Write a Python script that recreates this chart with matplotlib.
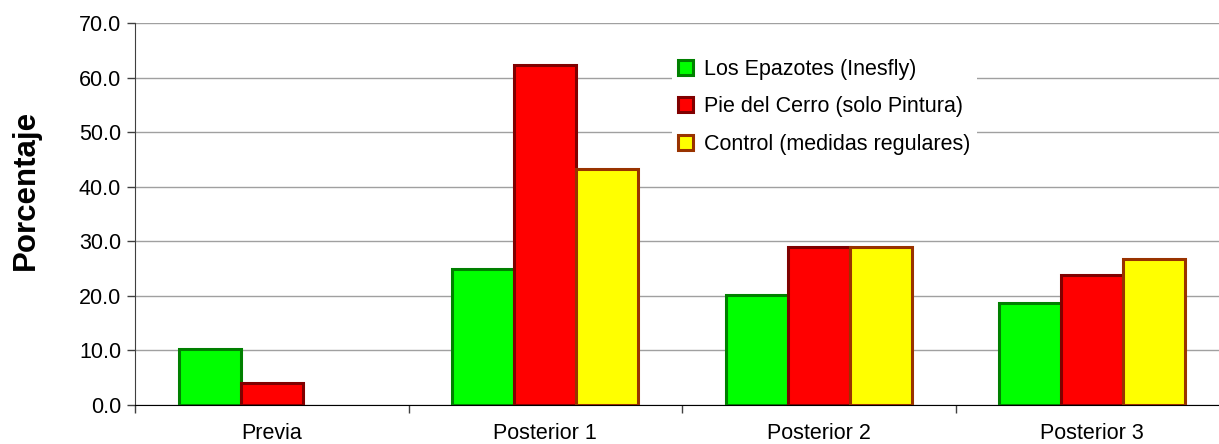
import numpy as np
import matplotlib
matplotlib.use("Agg")
import matplotlib.pyplot as plt
from matplotlib.ticker import FixedLocator, MultipleLocator, FormatStrFormatter

plt.rcParams['font.family'] = ['Liberation Sans', 'DejaVu Sans']

categories = ['Previa', 'Posterior 1', 'Posterior 2', 'Posterior 3']
series_names = ['Los Epazotes (Inesfly)', 'Pie del Cerro (solo Pintura)',
                'Control (medidas regulares)']
epazotes = [10.3, 24.9, 20.2, 18.6]
pie_cerro = [4.0, 62.3, 28.9, 23.8]
control = [0.0, 43.3, 28.9, 26.7]

fills = ['#00ff00', '#ff0000', '#ffff00']
edges = ['#008000', '#800000', '#993300']

fig = plt.figure(figsize=(12.19, 4.44), dpi=100)
ax = fig.add_axes([135 / 1219, 39 / 444, 1084 / 1219, 382 / 444])

x = np.arange(len(categories))
w = 0.227
for i, vals in enumerate([epazotes, pie_cerro, control]):
    v = np.array(vals, dtype=float)
    v[v == 0] = np.nan  # empty bars are not drawn
    ax.bar(x + (i - 1) * w, v, w, color=fills[i], edgecolor=edges[i],
           linewidth=2.2, label=series_names[i], zorder=3)

ax.set_xlim(-0.5, 3.463)
ax.set_ylim(0, 70)
ax.yaxis.set_major_locator(MultipleLocator(10))
ax.yaxis.set_major_formatter(FormatStrFormatter('%.1f'))
ax.yaxis.grid(True, color='#a0a0a0', linewidth=1.0, zorder=0)

ax.set_xticks(x)
ax.set_xticklabels(categories)
ax.xaxis.set_minor_locator(FixedLocator(np.arange(len(categories) + 1) - 0.5))
ax.tick_params(axis='x', which='major', length=0, pad=13, labelsize=15.5)
ax.tick_params(axis='x', which='minor', length=6, width=1, color='#404040')
ax.tick_params(axis='y', length=6, width=1, color='#404040', labelsize=15.5, pad=4)

for s in ['top', 'right']:
    ax.spines[s].set_visible(False)
ax.spines['left'].set_color('#404040')
ax.spines['bottom'].set_color('#000000')

ax.set_ylabel('Porcentaje', fontsize=22.5, fontweight='bold')
ax.yaxis.set_label_coords(-0.087, 0.563)

leg = ax.legend(loc='upper left', bbox_to_anchor=(0.485, 0.951), frameon=True,
                fontsize=15.5, handlelength=0.7, handleheight=0.7,
                handletextpad=0.5, labelspacing=0.76, borderpad=0.3)
leg.get_frame().set_facecolor('white')
leg.get_frame().set_edgecolor('none')
leg.get_frame().set_alpha(1)
leg.set_zorder(5)

fig.savefig('out.png', dpi=100)
